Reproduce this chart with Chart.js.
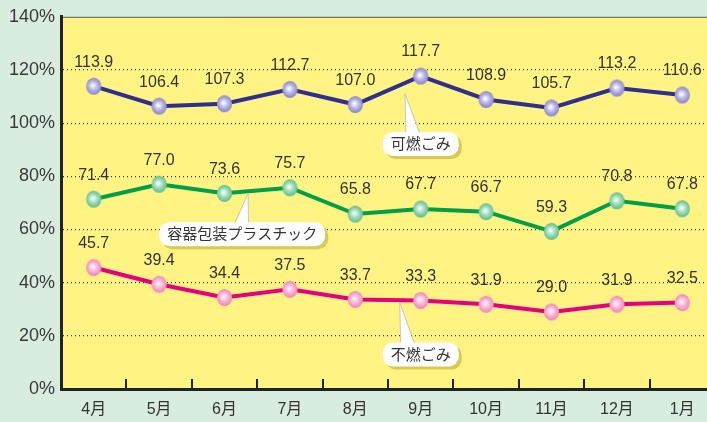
<!DOCTYPE html>
<html><head><meta charset="utf-8">
<script src="https://cdn.jsdelivr.net/npm/chart.js@4/dist/chart.umd.min.js"></script>
<style>html,body{margin:0;padding:0;overflow:hidden;background:#d8ede0;}#wrap{width:727px;height:422px;}</style>
</head><body><div id="wrap"><canvas id="c" width="727" height="422"></canvas></div>
<script>
const months = ['4月','5月','6月','7月','8月','9月','10月','11月','12月','1月'];
const burnable = [113.9,106.4,107.3,112.7,107.0,117.7,108.9,105.7,113.2,110.6];
const plastic = [71.4,77.0,73.6,75.7,65.8,67.7,66.7,59.3,70.8,67.8];
const nonBurnable = [45.7,39.4,34.4,37.5,33.7,33.3,31.9,29.0,31.9,32.5];
const seriesNames = ['可燃ごみ','容器包装プラスチック','不燃ごみ'];
const yMin = 0, yMax = 140, yStep = 20;

const FONT = '"Liberation Sans","Noto Sans CJK JP",Arial,sans-serif';

function marker(edge, mid, center){
  const c = document.createElement('canvas');
  c.width = 17; c.height = 19;
  const x = c.getContext('2d');
  const g = x.createRadialGradient(7.5,8.5,0.5,8.5,9.5,9);
  g.addColorStop(0, center);
  g.addColorStop(0.45, mid);
  g.addColorStop(1, edge);
  x.fillStyle = g;
  x.beginPath(); x.ellipse(8.5,9.5,7.6,8.6,0,0,Math.PI*2); x.fill();
  return c;
}
const mBlue = marker('#7f7ac8','#b9b6e8','#ffffff');
const mGreen = marker('#4fb883','#9fdcbc','#f4fff8');
const mPink = marker('#ee7ab5','#f8b6d8','#fff4fa');

const callouts = [
  {text: seriesNames[0], x: 5.0, y: 92.2, tipX: 4.76, tipY: 111, baseX: 4.88},
  {text: seriesNames[1], x: 2.27, y: 58.2, tipX: 2.36, tipY: 73.5, baseX: 2.26},
  {text: seriesNames[2], x: 5.0, y: 13.0, tipX: 4.68, tipY: 32.5, baseX: 4.8}
];

function xAt(scale, v){
  const i = Math.floor(v), f = v - i;
  const a = scale.getPixelForValue(i);
  const b = scale.getPixelForValue(Math.min(i+1, months.length-1));
  return a + (b-a)*f;
}

function rr(ctx,x,y,w,h,r){
  ctx.beginPath();
  ctx.moveTo(x+r,y); ctx.lineTo(x+w-r,y); ctx.arcTo(x+w,y,x+w,y+r,r);
  ctx.lineTo(x+w,y+h-r); ctx.arcTo(x+w,y+h,x+w-r,y+h,r);
  ctx.lineTo(x+r,y+h); ctx.arcTo(x,y+h,x,y+h-r,r);
  ctx.lineTo(x,y+r); ctx.arcTo(x,y,x+r,y,r); ctx.closePath();
}

const bgPlugin = {
  id:'bg',
  beforeDraw(chart){
    const {ctx, chartArea:a} = chart;
    ctx.save();
    ctx.fillStyle = '#d8ede0';
    ctx.fillRect(0,0,chart.width,chart.height);
    ctx.fillStyle = '#fff383';
    ctx.fillRect(a.left,a.top,a.right-a.left,a.bottom-a.top);
    ctx.strokeStyle = '#555';
    ctx.lineWidth = 1;
    ctx.beginPath(); ctx.moveTo(a.left,a.top+0.5); ctx.lineTo(a.right,a.top+0.5); ctx.stroke();
    ctx.restore();
  },
  afterDraw(chart){
    const {ctx, chartArea:a, scales:{x}} = chart;
    ctx.save();
    ctx.strokeStyle = '#222'; ctx.lineWidth = 2;
    for(let i=1;i<months.length;i++){
      const px = Math.round((x.getPixelForValue(i-1)+x.getPixelForValue(i))/2);
      ctx.beginPath(); ctx.moveTo(px,a.bottom); ctx.lineTo(px,a.bottom-10); ctx.stroke();
    }
    ctx.restore();
  }
};

const labelPlugin = {
  id:'labels',
  afterDatasetsDraw(chart){
    const {ctx, scales:{x,y}} = chart;
    ctx.save();
    ctx.font = '16px '+FONT;
    ctx.fillStyle = '#333';
    ctx.textAlign = 'center'; ctx.textBaseline = 'middle';
    chart.data.datasets.forEach((ds,di)=>{
      const meta = chart.getDatasetMeta(di);
      meta.data.forEach((pt,i)=>{
        ctx.fillText(ds.data[i].toFixed(1), pt.x, pt.y-24);
      });
    });
    ctx.font = '15px '+FONT;
    callouts.forEach(c=>{
      const cx = xAt(x,c.x), cy = y.getPixelForValue(c.y);
      const tw = ctx.measureText(c.text).width;
      const w = tw + 16, h = 24;
      const bx = cx - w/2, by = cy - h/2;
      const tx = xAt(x,c.tipX), ty = y.getPixelForValue(c.tipY);
      const bsx = xAt(x,c.baseX);
      ctx.fillStyle = 'rgba(205,185,70,0.75)';
      rr(ctx,bx+3,by+3,w,h,10); ctx.fill();
      ctx.fillStyle = '#fff';
      ctx.beginPath(); ctx.moveTo(bsx-7,by+4); ctx.lineTo(tx,ty); ctx.lineTo(bsx+7,by+4); ctx.closePath(); ctx.fill();
      ctx.strokeStyle = '#bbb'; ctx.lineWidth = 0.8;
      ctx.beginPath(); ctx.moveTo(bsx-7,by+1); ctx.lineTo(tx,ty); ctx.lineTo(bsx+7,by+1); ctx.stroke();
      ctx.fillStyle = '#fff';
      rr(ctx,bx,by,w,h,10); ctx.fill();
      ctx.fillStyle = '#333';
      ctx.fillText(c.text, cx, cy+1);
    });
    ctx.restore();
  }
};

new Chart(document.getElementById('c'), {
  type:'line',
  data:{
    labels: months,
    datasets:[
      {label: seriesNames[0], data: burnable, borderColor:'#2e2f8f', borderWidth:4, pointStyle:mBlue, pointRadius:8, tension:0},
      {label: seriesNames[1], data: plastic, borderColor:'#00a04a', borderWidth:4, pointStyle:mGreen, pointRadius:8, tension:0},
      {label: seriesNames[2], data: nonBurnable, borderColor:'#e4007f', borderWidth:4, pointStyle:mPink, pointRadius:8, tension:0}
    ]
  },
  options:{
    responsive:false, animation:false, devicePixelRatio:1,
    layout:{padding:{top:15,left:0,right:0,bottom:0}},
    plugins:{legend:{display:false}, tooltip:{enabled:false}},
    scales:{
      x:{
        offset:true,
        grid:{display:false, drawTicks:false},
        border:{display:true,color:'#222',width:3},
        ticks:{font:{size:16,family:FONT},color:'#333',padding:11,maxRotation:0},
        afterFit(s){ s.height = 33; }
      },
      y:{
        min:yMin, max:yMax,
        grid:{
          color:(c)=> (c.tick && (c.tick.value===yMin||c.tick.value===yMax)) ? 'rgba(0,0,0,0)' : '#333',
          lineWidth:1.2, drawTicks:false
        },
        border:{display:true,color:'#222',width:3,dash:[1,3]},
        ticks:{stepSize:yStep, callback:v=>v+'%', font:{size:18,family:FONT}, color:'#3a3a3a', padding:6},
        afterFit(s){ s.width = 61; }
      }
    }
  },
  plugins:[bgPlugin,labelPlugin]
});
</script></body></html>
